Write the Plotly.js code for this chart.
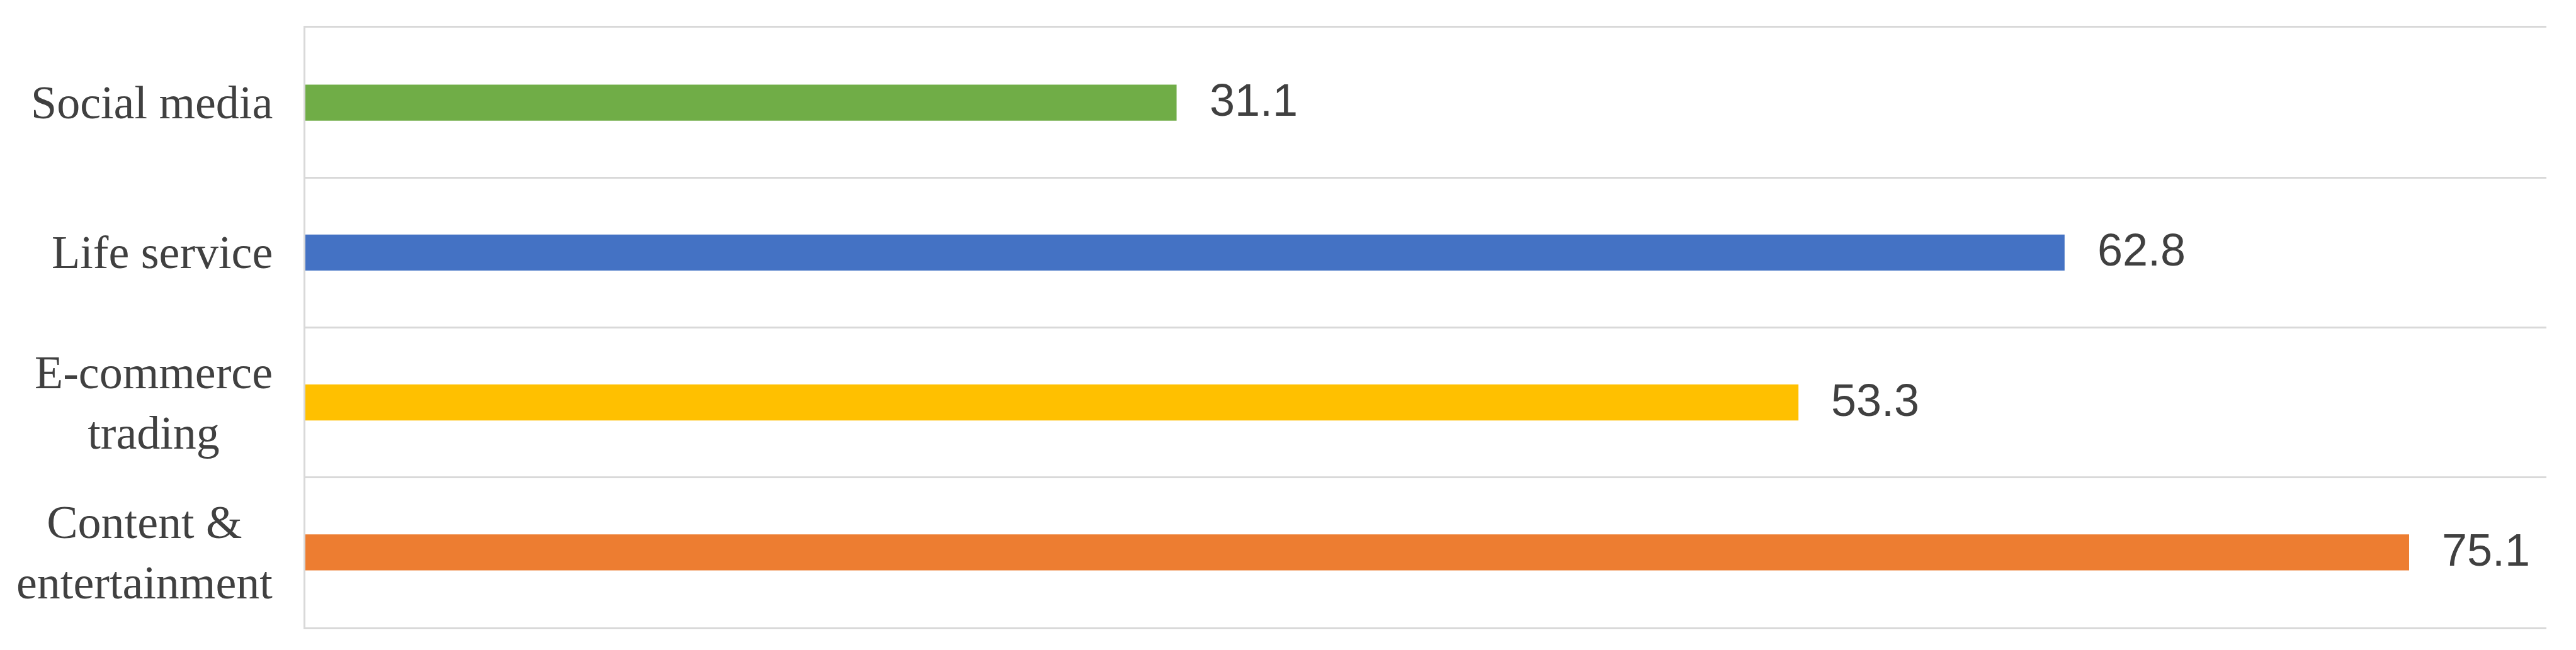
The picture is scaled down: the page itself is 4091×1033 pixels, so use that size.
<!DOCTYPE html>
<html>
<head>
<meta charset="utf-8">
<script src="https://cdn.plot.ly/plotly-3.0.1.min.js"></script>
<style>
  html, body { margin: 0; padding: 0; background: #ffffff; }
  #chart { width: 4091px; height: 1033px; }
</style>
</head>
<body>
<div id="chart"></div>
<script>
// Categories, listed top to bottom as in the chart
const categories = ['Social media', 'Life service', 'E-commerce trading', 'Content & entertainment'];
const categoryLabels = ['Social media', 'Life service', 'E-commerce<br>trading', 'Content &<br>entertainment'];
const values = [31.1, 62.8, 53.3, 75.1];
const barColors = ['#70AD47', '#4472C4', '#FFC000', '#ED7D31'];

const textColor = '#404040';
const gridColor = '#d9d9d9';

const trace = {
  type: 'bar',
  orientation: 'h',
  y: categories,
  x: values,
  width: 0.24,
  marker: { color: barColors, line: { width: 0 } },
  hoverinfo: 'skip',
  showlegend: false
};

const annotations = [];
categories.forEach((c, i) => {
  // value labels
  annotations.push({
    x: values[i], y: c, xref: 'x', yref: 'y',
    text: values[i].toFixed(1),
    showarrow: false,
    xanchor: 'left', yanchor: 'middle',
    xshift: 50, yshift: 4,
    font: { family: 'Liberation Sans, Arial, sans-serif', size: 72, color: textColor }
  });
  // category labels (centered multi-line)
  annotations.push({
    x: 0, y: c, xref: 'paper', yref: 'y',
    text: categoryLabels[i],
    showarrow: false,
    xanchor: 'right', yanchor: 'middle',
    align: 'center',
    xshift: -50, yshift: 0,
    font: { family: 'Liberation Serif, Times New Roman, serif', size: 74, color: textColor }
  });
});

const layout = {
  width: 4091,
  height: 1033,
  margin: { l: 485, r: 47, t: 44, b: 36, pad: 0 },
  paper_bgcolor: '#ffffff',
  plot_bgcolor: '#ffffff',
  bargap: 0.76,
  xaxis: {
    range: [0, 80],
    showticklabels: false,
    showgrid: false,
    zeroline: false,
    ticks: '',
    showline: true,
    mirror: true,
    linecolor: gridColor,
    linewidth: 3,
    fixedrange: true
  },
  yaxis: {
    type: 'category',
    categoryorder: 'array',
    categoryarray: categories,
    range: [3.5, -0.5],
    tickson: 'boundaries',
    showgrid: true,
    gridcolor: gridColor,
    gridwidth: 3,
    ticks: '',
    showticklabels: false,
    showline: true,
    linecolor: gridColor,
    linewidth: 3,
    zeroline: false,
    fixedrange: true
  },
  annotations: annotations
};

Plotly.newPlot('chart', [trace], layout, { displayModeBar: false, staticPlot: true });
</script>
</body>
</html>
